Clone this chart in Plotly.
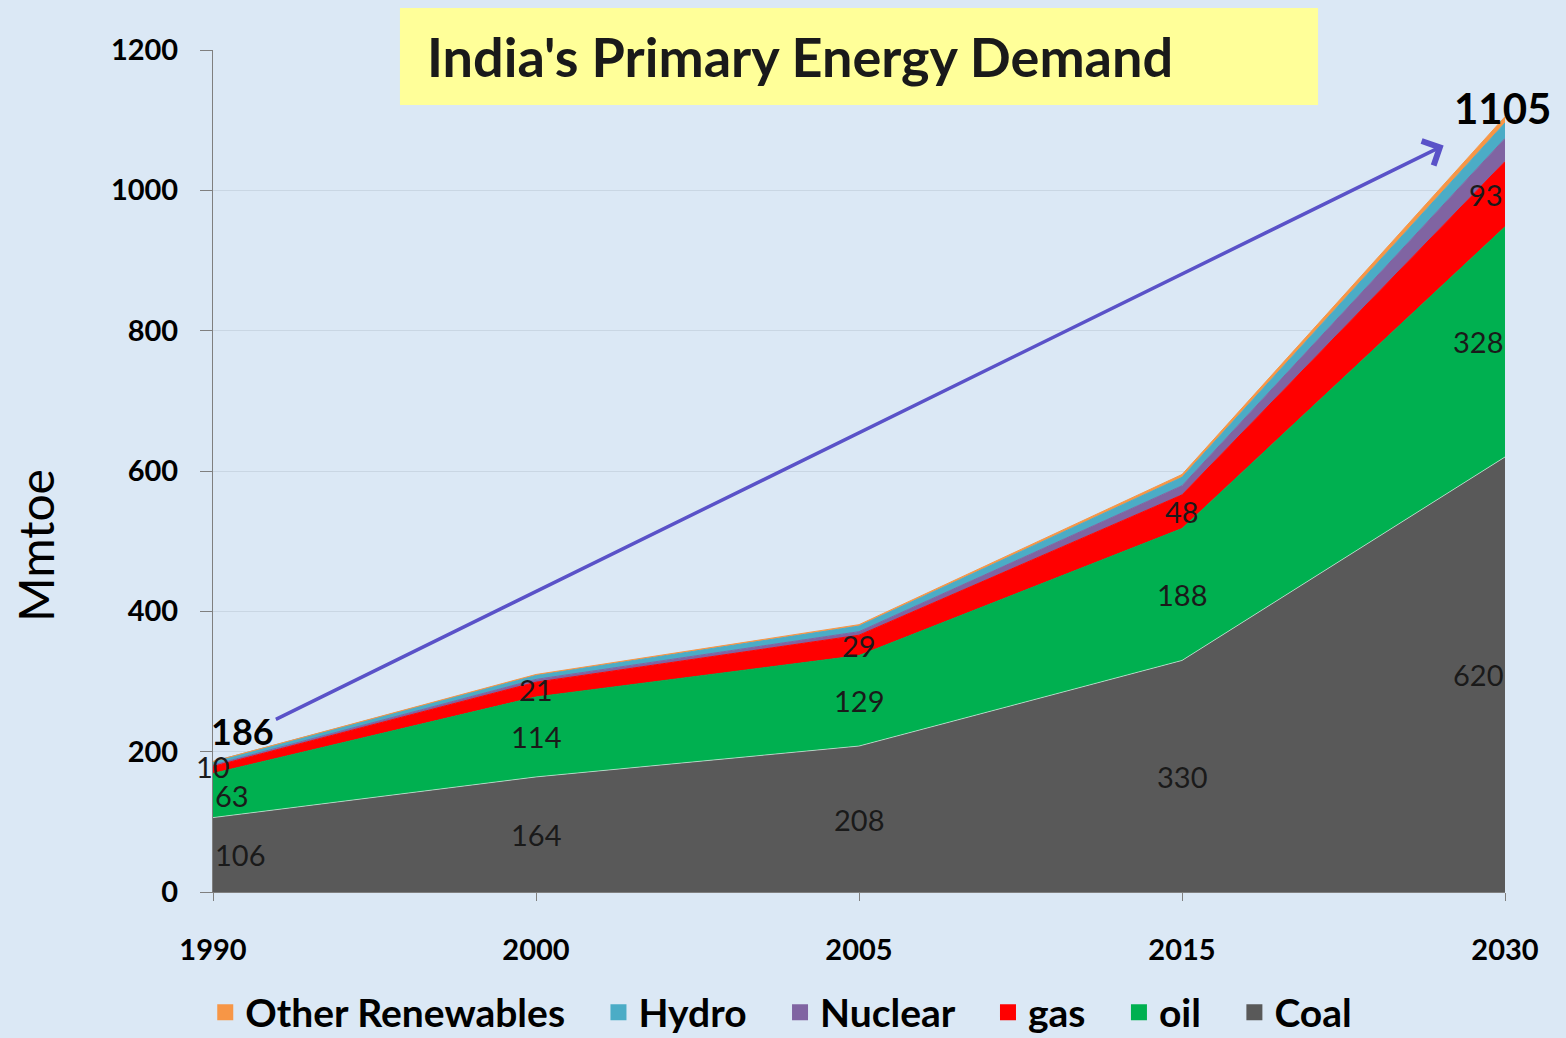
import plotly.graph_objects as go

years = ["1990", "2000", "2005", "2015", "2030"]
coal = [106, 164, 208, 330, 620]
oil = [63, 114, 129, 188, 328]
gas = [10, 21, 29, 48, 93]
nuclear = [2, 4, 5, 13, 33]
hydro = [5, 6, 8, 12, 22]
other_ren = [0, 1, 2, 4, 9]
totals = [186, 310, 381, 595, 1105]

series = [
    ("Coal", coal, "#595959"),
    ("oil", oil, "#00b050"),
    ("gas", gas, "#ff0000"),
    ("Nuclear", nuclear, "#8064a2"),
    ("Hydro", hydro, "#4bacc6"),
    ("Other Renewables", other_ren, "#f79646"),
]
labelled = ["Coal", "oil", "gas"]

FONT = "Lato"
fig = go.Figure()
for name, vals, col in series:
    fig.add_trace(go.Scatter(
        x=years, y=vals, name=name, mode="lines", stackgroup="one", showlegend=False,
        line=dict(color="rgba(255,255,255,0.55)" if name == "Coal" else col, width=1),
        fillcolor=col,
    ))
# legend entries with square swatches
for name, vals, col in series:
    fig.add_trace(go.Scatter(
        x=[None], y=[None], name=name + "\u00a0" * 3, mode="markers",
        marker=dict(symbol="square", size=18, color=col),
    ))

# data labels in the middle of each labelled band
base = [0] * len(years)
for name, vals, col in series:
    if name in labelled:
        for i, v in enumerate(vals):
            if i == 0:
                xa = "left"
            elif i == len(years) - 1:
                xa = "right"
            else:
                xa = "center"
            ypos = base[i] + v / 2
            if v < 15:
                ypos = base[i] + v
                xa = "center"
            fig.add_annotation(x=i, y=ypos, text=str(v), showarrow=False,
                               xanchor=xa, yanchor="middle",
                               font=dict(family=FONT, size=29, color="#1a1a1a"))
    base = [b + v for b, v in zip(base, vals)]

# totals
fig.add_annotation(x=0, y=totals[0], text="<b>%d</b>" % totals[0], showarrow=False,
                   xanchor="left", yanchor="bottom", xshift=-4, yshift=6,
                   font=dict(family=FONT, size=36, color="#000"))
fig.add_annotation(x=4, y=totals[-1], text="<b>%d</b>" % totals[-1], showarrow=False,
                   xanchor="center", yanchor="bottom", xshift=-3, yshift=-18,
                   font=dict(family=FONT, size=42, color="#000"))

# growth arrow
fig.add_annotation(x=3.81, y=1064, ax=0.19, ay=245, axref="x", ayref="y",
                   xref="x", yref="y", showarrow=True, arrowhead=4, arrowsize=1.5,
                   arrowwidth=3.5, arrowcolor="#5a52c8", text="")

# title box
fig.add_shape(type="rect", xref="paper", yref="paper", x0=0.1447, x1=0.8553,
              y0=0.9347, y1=1.0499, fillcolor="#ffff99", line=dict(width=0), layer="below")
fig.add_annotation(xref="paper", yref="paper", x=0.164, y=0.9923, xanchor="left",
                   yanchor="middle", showarrow=False,
                   text="<b>India's Primary Energy Demand</b>",
                   font=dict(family=FONT, size=54, color="#1a1a1a"))

# y-axis title
fig.add_annotation(xref="paper", yref="paper", x=-0.1378, y=0.412, textangle=-90,
                   showarrow=False, xanchor="center", yanchor="middle", text="Mmtoe",
                   font=dict(family=FONT, size=48, color="#000"))

fig.update_layout(
    width=1566, height=1038,
    margin=dict(l=213, r=61, t=50, b=146, autoexpand=False),
    paper_bgcolor="#dbe8f5", plot_bgcolor="#dbe8f5",
    showlegend=True,
    legend=dict(orientation="h", x=-0.006, xanchor="left", y=-0.143, yanchor="middle",
                traceorder="reversed",
                font=dict(family=FONT, size=39, color="#000", weight="bold"),
                bgcolor="rgba(0,0,0,0)", itemwidth=30),
    font=dict(family=FONT),
)
fig.update_xaxes(type="category", range=[0, 4], showline=True, linecolor="#7f7f7f",
                 ticks="outside", ticklen=8, tickcolor="#7f7f7f", showgrid=False,
                 tickfont=dict(family=FONT, size=29, color="#000", weight="bold"),
                 ticklabelstandoff=24)
fig.update_yaxes(range=[0, 1200], dtick=200, showline=True, linecolor="#7f7f7f",
                 ticks="outside", ticklen=12, tickcolor="#7f7f7f",
                 gridcolor="rgba(170,180,195,0.35)", zeroline=False,
                 tickfont=dict(family=FONT, size=29, color="#000", weight="bold"),
                 ticklabelstandoff=16)

fig.write_html("out.html")
